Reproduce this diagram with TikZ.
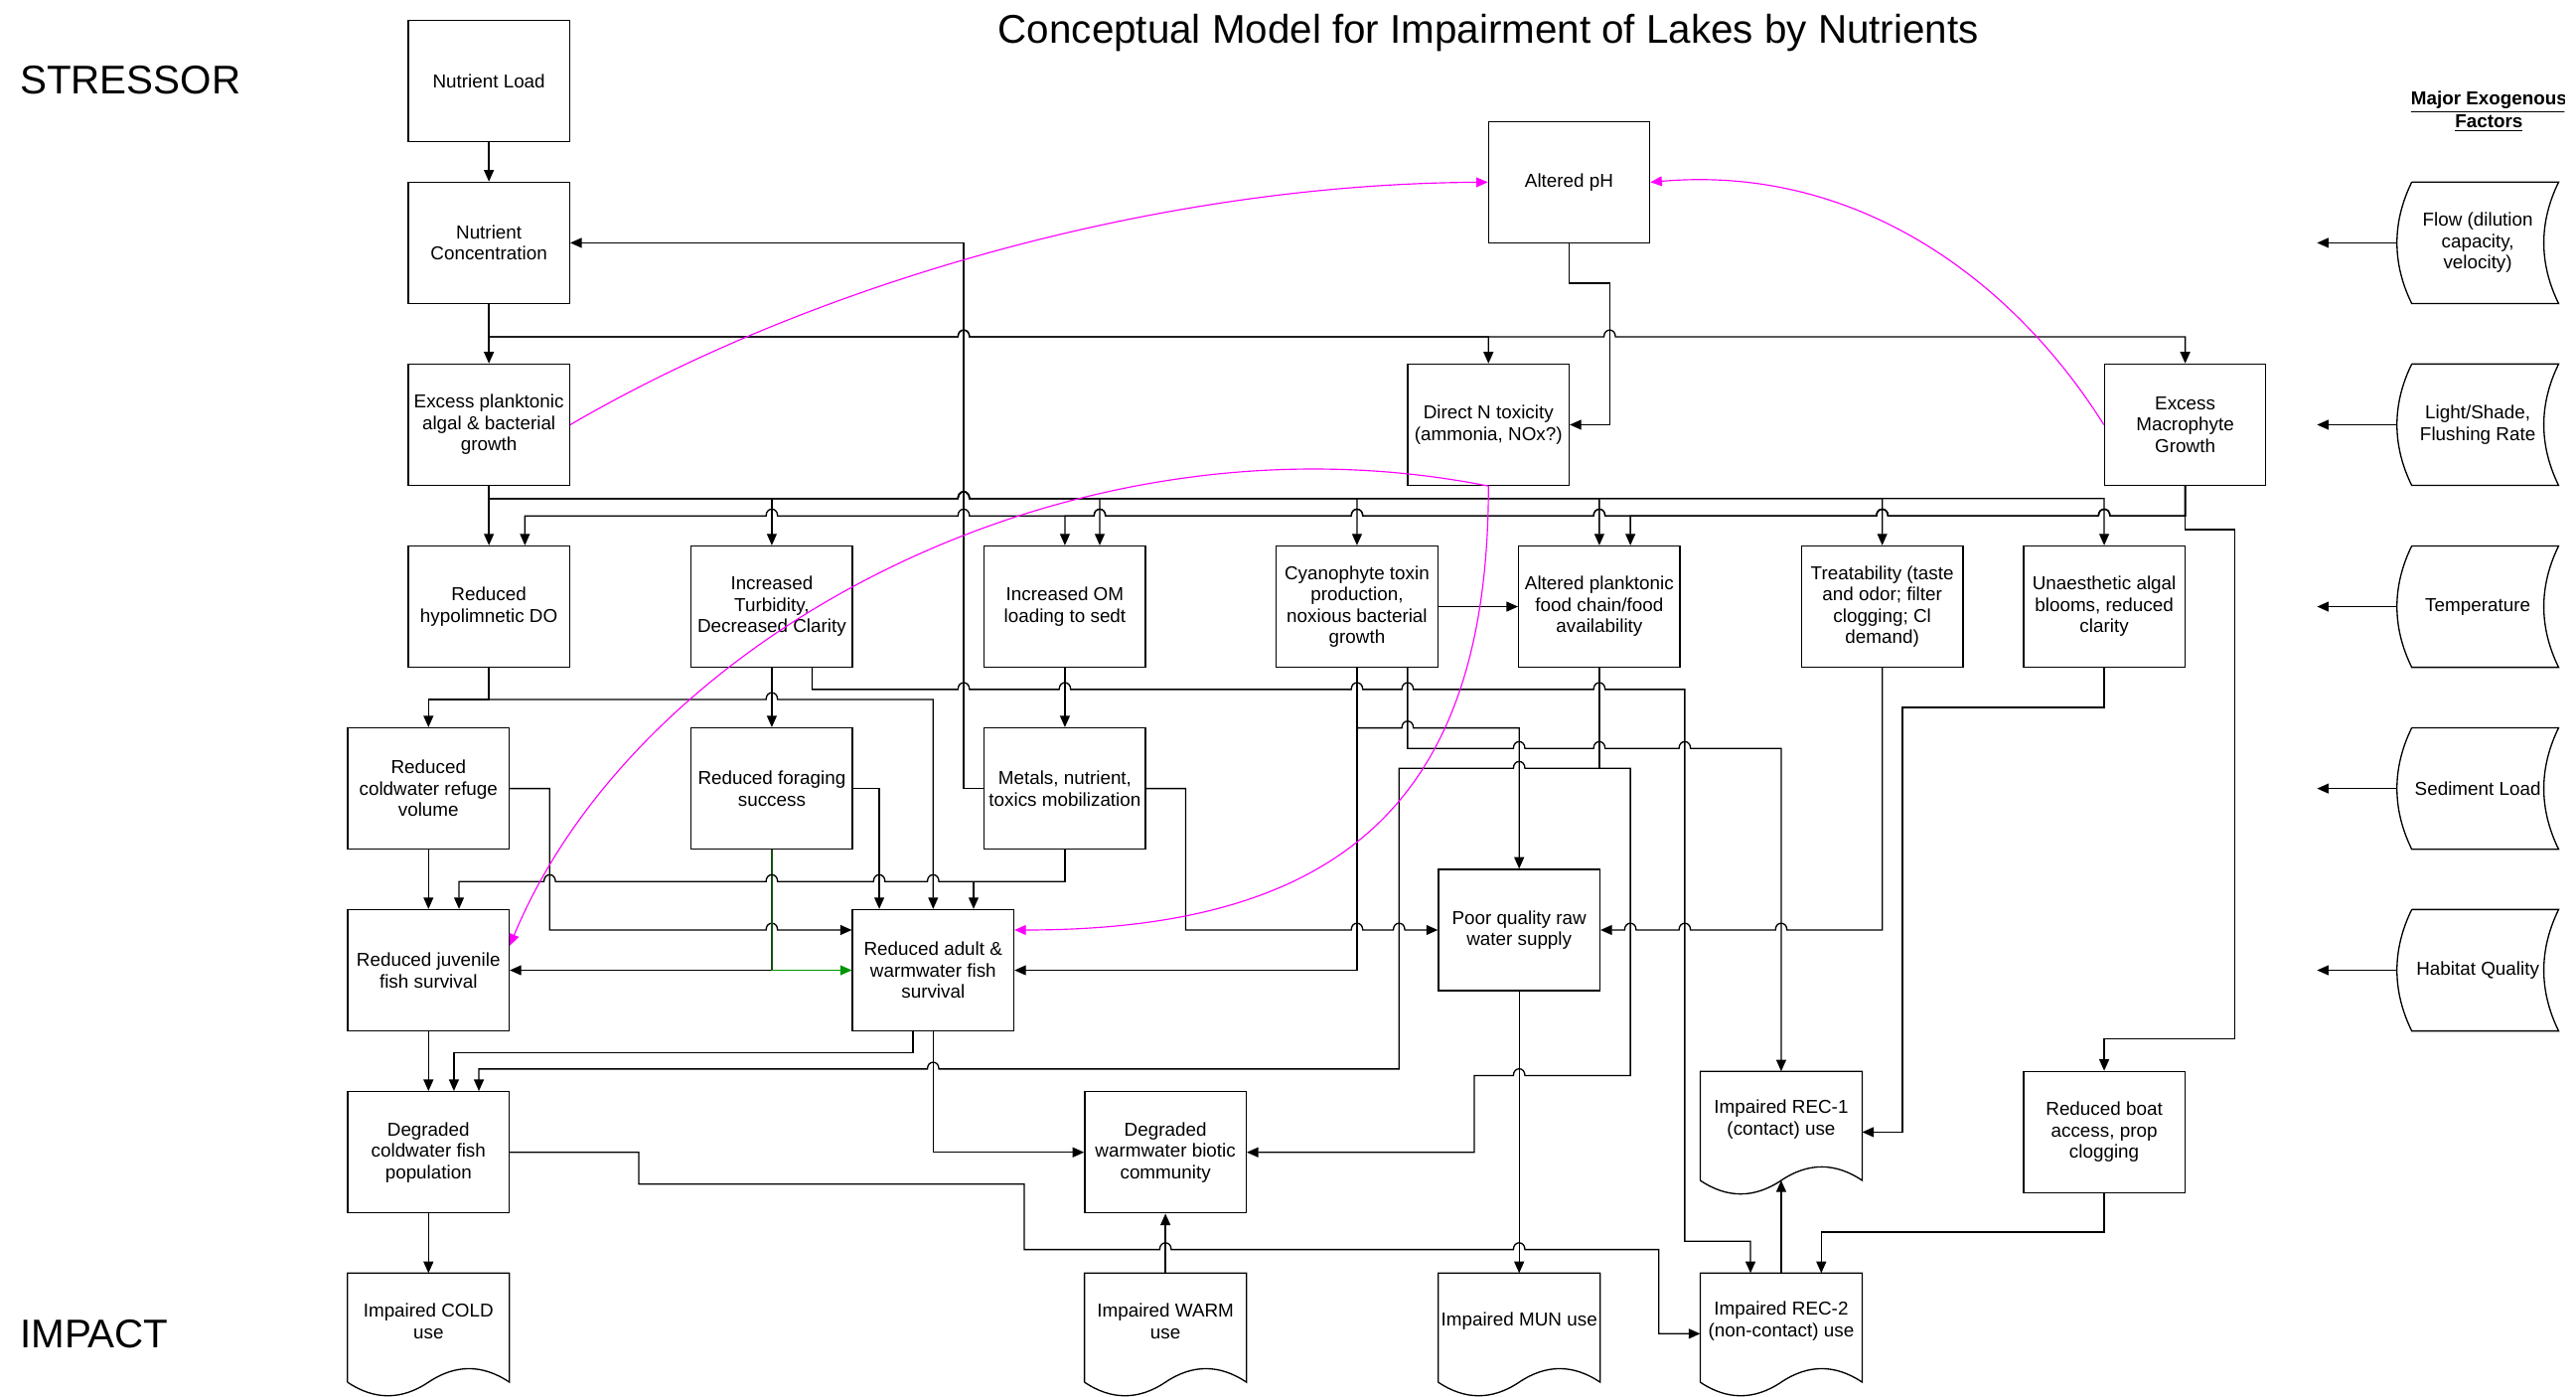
\documentclass[tikz,border=0pt]{standalone}
\usepackage{fontspec}
\setmainfont{Liberation Sans}
\usetikzlibrary{arrows.meta}
\definecolor{dkgreen}{RGB}{20,80,20}
\definecolor{grn}{RGB}{0,150,0}
\definecolor{mag}{RGB}{255,0,255}
\newcommand\boxfont{\fontsize{11.4}{13}\selectfont}
\newcommand\hopR[2]{-- (#1-3.5,#2) .. controls (#1-3.5,#2-5.5) and (#1+3.5,#2-5.5) .. (#1+3.5,#2)}
\newcommand\hopL[2]{-- (#1+3.5,#2) .. controls (#1+3.5,#2-5.5) and (#1-3.5,#2-5.5) .. (#1-3.5,#2)}
\newcommand\docshape[1]{\draw[shapeline] ([yshift=-8pt]#1.south west) -- (#1.north west) -- (#1.north east) -- ([yshift=-8pt]#1.south east) .. controls +(-16.4,-11) and +(16.4,-11) .. ([yshift=-8pt]#1.south) .. controls +(-16.4,11) and +(16.4,11) .. ([yshift=-8pt]#1.south west);}
\newcommand\exoshape[1]{\draw[shapeline] ([xshift=9pt]#1.north west) -- (#1.north east) .. controls +(-12,24.5) and +(-12,-24.5) .. (#1.south east) -- ([xshift=9pt]#1.south west) .. controls +(-12,-24.5) and +(-12,24.5) .. ([xshift=9pt]#1.north west);}
\newcommand\plankbus{(plank.south) -- (plank.south |- 0,303.4) \hopR{586.6}{303.4}}
\newcommand\macrobus{(macro.south) -- (macro.south |- 0,314) \hopL{1280.8}{314} \hopL{1145.7}{314}}
\begin{document}
\begin{tikzpicture}[x=1pt,y=-1pt,
  shapeline/.style={line width=0.8pt},
  box/.style={draw, line width=0.8pt, minimum width=98.2pt, minimum height=73.8pt, inner sep=1pt, align=center, font=\boxfont},
  docn/.style={minimum width=98.2pt, minimum height=58pt, inner sep=1pt, align=center, font=\boxfont},
  exon/.style={minimum width=98pt, minimum height=73.5pt, inner sep=1pt, align=center, font=\boxfont},
  ln/.style={line width=0.8pt},
  arr/.style={ln, -{Triangle[length=7pt,width=6pt]}},
  magarr/.style={line width=0.7pt, color=mag, -{Triangle[length=7pt,width=6pt]}},
  big/.style={font=\fontsize{24.4}{29}\selectfont, inner sep=0pt}]
\path[use as bounding box, fill=white] (0,0) rectangle (1568,850);

% titles
\node[big, anchor=base] (title) at (906,26.2) {Conceptual Model for Impairment of Lakes by Nutrients};
\node[big, anchor=base west] (stressor) at (12,57.3) {STRESSOR};
\node[big, anchor=base west] (impact) at (12,820) {IMPACT};
\begin{scope}
\clip (0,0) rectangle (1561,850);
\node[anchor=base, inner sep=0pt, font=\fontsize{11.4}{13.5}\selectfont\bfseries] (mef) at (1515,64.1)
  {\begin{tabular}[t]{@{}c@{}}\underline{Major Exogenous}\\\underline{Factors}\end{tabular}};
\end{scope}

% boxes
\node[box] (nload) at (297.6,49.4) {Nutrient Load};
\node[box] (nconc) at (297.6,147.8) {Nutrient\\Concentration};
\node[box] (plank) at (297.6,258.5) {Excess planktonic\\algal \& bacterial\\growth};
\node[box] (ph) at (955.1,110.9) {Altered pH};
\node[box] (dirn) at (906,258.5) {Direct N toxicity\\(ammonia, NOx?)};
\node[box] (macro) at (1330.1,258.5) {Excess\\Macrophyte\\Growth};
\node[box] (hypo) at (297.6,369.2) {Reduced\\hypolimnetic DO};
\node[box] (turb) at (469.8,369.2) {Increased\\Turbidity,\\Decreased Clarity};
\node[box] (om) at (648.2,369.2) {Increased OM\\loading to sedt};
\node[box] (cyano) at (826,369.2) {Cyanophyte toxin\\production,\\noxious bacterial\\growth};
\node[box] (altpl) at (973.5,369.2) {Altered planktonic\\food chain/food\\availability};
\node[box] (treat) at (1145.7,369.2) {Treatability (taste\\and odor; filter\\clogging; Cl\\demand)};
\node[box] (unaes) at (1280.8,369.2) {Unaesthetic algal\\blooms, reduced\\clarity};
\node[box] (refuge) at (260.8,479.9) {Reduced\\coldwater refuge\\volume};
\node[box] (forage) at (469.8,479.9) {Reduced foraging\\success};
\node[box] (metals) at (648.2,479.9) {Metals, nutrient,\\toxics mobilization};
\node[box] (poorq) at (924.7,566) {Poor quality raw\\water supply};
\node[box] (juven) at (260.8,590.5) {Reduced juvenile\\fish survival};
\node[box] (adult) at (568,590.5) {Reduced adult \&\\warmwater fish\\survival};
\node[box] (degcold) at (260.8,701.3) {Degraded\\coldwater fish\\population};
\node[box] (degwarm) at (709.4,701.3) {Degraded\\warmwater biotic\\community};
\node[box] (boat) at (1280.8,689) {Reduced boat\\access, prop\\clogging};

% document shapes
\node[docn] (rec1) at (1084.2,681.2) {Impaired REC-1\\(contact) use};
\node[docn] (cold) at (260.8,804) {Impaired COLD\\use};
\node[docn] (warm) at (709.4,804) {Impaired WARM\\use};
\node[docn] (mun) at (924.7,804) {Impaired MUN use};
\node[docn] (rec2) at (1084.2,804) {Impaired REC-2\\(non-contact) use};
\docshape{rec1}\docshape{cold}\docshape{warm}\docshape{mun}\docshape{rec2}

% exogenous factors
\node[exon] (e1) at (1508.2,147.8) {Flow (dilution\\capacity,\\velocity)};
\node[exon] (e2) at (1508.2,258.5) {Light/Shade,\\Flushing Rate};
\node[exon] (e3) at (1508.2,369.2) {Temperature};
\node[exon] (e4) at (1508.2,479.9) {Sediment Load};
\node[exon] (e5) at (1508.2,590.5) {Habitat Quality};
\exoshape{e1}\exoshape{e2}\exoshape{e3}\exoshape{e4}\exoshape{e5}
\coordinate (t1) at (1410.4,147.8);
\coordinate (t2) at (1410.4,258.5);
\coordinate (t3) at (1410.4,369.2);
\coordinate (t4) at (1410.4,479.9);
\coordinate (t5) at (1410.4,590.5);
\draw[arr] (e1.west) -- (t1);
\draw[arr] (e2.west) -- (t2);
\draw[arr] (e3.west) -- (t3);
\draw[arr] (e4.west) -- (t4);
\draw[arr] (e5.west) -- (t5);

% stressor chain
\draw[arr] (nload) -- (nconc);
\draw[arr] (nconc) -- (plank);
\draw[arr] (nconc.south |- 0,205) \hopR{586.6}{205} -- (dirn.north |- 0,205) -- (dirn.north);
\draw[arr] (nconc.south |- 0,205) \hopR{586.6}{205} \hopR{979.8}{205} -- (macro.north |- 0,205) -- (macro.north);
\draw[arr] (ph.south) |- (979.8,172.3) -- (dirn.east -| 979.8,0) -- (dirn.east);
\draw[arr] (metals.west) -| (586.6,147.8) -- (nconc.east);

% bus from planktonic growth
\draw[arr] (plank) -- (hypo);
\draw[arr] (plank.south) -- (plank.south |- 0,303.4) -- (turb.north |- 0,303.4) -- (turb.north);
\draw[arr] \plankbus -- (669.4,303.4) -- (om.north -| 669.4,0);
\draw[arr] \plankbus -- (cyano.north |- 0,303.4) -- (cyano.north);
\draw[arr] \plankbus -- (altpl.north |- 0,303.4) -- (altpl.north);
\draw[arr] \plankbus -- (treat.north |- 0,303.4) -- (treat.north);
\draw[arr] \plankbus -- (unaes.north |- 0,303.4) -- (unaes.north);

% bus from macrophyte growth
\draw[arr] \macrobus -- (992.4,314) -- (altpl.north -| 992.4,0);
\draw[arr] \macrobus \hopL{973.5}{314} \hopL{826}{314} \hopL{669.4}{314} -- (om.north |- 0,314) -- (om.north);
\draw[arr] \macrobus \hopL{973.5}{314} \hopL{826}{314} \hopL{669.4}{314} \hopL{586.6}{314} \hopL{469.8}{314} -- (319.5,314) -- (hypo.north -| 319.5,0);
\draw[arr] (macro.south) -- (macro.south |- 0,322.4) -- (1360.4,322.4) -- (1360.4,632.3) -- (boat.north |- 0,632.3) -- (boat.north);

% row D -> E
\draw[arr] (turb) -- (forage);
\draw[arr] (turb.south -| 494.3,0) -- (494.3,419.6) \hopR{586.6}{419.6} \hopR{648.2}{419.6} \hopR{826}{419.6} \hopR{856.8}{419.6} \hopR{973.5}{419.6} -- (1025.5,419.6) -- (1025.5,755.4) -- (1065.5,755.4) -- (rec2.north -| 1065.5,0);
\draw[arr] (hypo.south) -- (hypo.south |- 0,425.7) -- (refuge.north |- 0,425.7) -- (refuge.north);
\draw[arr] (hypo.south) -- (hypo.south |- 0,425.7) \hopR{469.8}{425.7} -- (adult.north |- 0,425.7) -- (adult.north);
\draw[arr] (om) -- (metals);
\draw[arr] (cyano) -- (altpl);

% row E -> F
\draw[arr] (refuge) -- (juven);
\draw[arr] (refuge.east) -- (334.6,479.9) -- (334.6,566) \hopR{469.8}{566} -- (adult.west |- 0,566);
\draw[arr] (forage.east) -- (535.2,479.9) -- (adult.north -| 535.2,0);
\draw[arr] (forage.south) -- (forage.south |- 0,590.5) -- (juven.east);
\draw[ln, dkgreen] (forage.south) -- (forage.south |- 0,590.5);
\draw[arr, color=grn] (forage.south |- 0,590.5) -- (adult.west);
\draw[arr] (metals.south) -- (metals.south |- 0,536.5) \hopL{568}{536.5} \hopL{535.2}{536.5} \hopL{469.8}{536.5} \hopL{334.6}{536.5} -- (279.4,536.5) -- (juven.north -| 279.4,0);
\draw[arr] (metals.south) -- (metals.south |- 0,536.5) -- (592.6,536.5) -- (adult.north -| 592.6,0);
\draw[arr] (metals.east) -- (721.7,479.9) -- (721.7,566) \hopR{826}{566} \hopR{851.6}{566} -- (poorq.west);
\draw[arr] (cyano.south) -- (cyano.south |- 0,590.5) -- (adult.east);
\draw[arr] (cyano.south) -- (cyano.south |- 0,443) \hopR{856.8}{443} -- (poorq.north |- 0,443) -- (poorq.north);
\draw[arr] (cyano.south -| 856.8,0) -- (856.8,455.5) \hopR{924.7}{455.5} \hopR{973.5}{455.5} \hopR{1025.5}{455.5} -- (rec1.north |- 0,455.5) -- (rec1.north);
\draw[arr] (altpl.south) -- (altpl.south |- 0,467.6) \hopL{924.7}{467.6} -- (851.6,467.6) -- (851.6,650.6) \hopL{568}{650.6} -- (291.5,650.6) -- (degcold.north -| 291.5,0);
\draw[arr] (altpl.south) -- (altpl.south |- 0,467.6) -- (992.4,467.6) -- (992.4,654.6) \hopL{924.7}{654.6} -- (897.4,654.6) -- (897.4,701.3) -- (degwarm.east);
\draw[arr] (treat.south) -- (treat.south |- 0,566) \hopL{1084.2}{566} \hopL{1025.5}{566} \hopL{992.4}{566} -- (poorq.east);
\draw[arr] (unaes.south) -- (unaes.south |- 0,430.6) -- (1158,430.6) -- (1158,689) -- (rec1.east |- 0,689);

% row F -> G -> H
\draw[arr] (juven) -- (degcold);
\draw[arr] (adult.south -| 555.8,0) -- (555.8,640.7) -- (276.3,640.7) -- (degcold.north -| 276.3,0);
\draw[arr] (adult.south) |- (degwarm.west);
\draw[arr] (degcold.south) -- (cold.north);
\draw[arr] (degcold.east) -- (388.8,701.3) -- (388.8,720.6) -- (623.4,720.6) -- (623.4,760.5) \hopR{709.4}{760.5} \hopR{924.7}{760.5} -- (1009.7,760.5) -- (1009.7,811.7) -- (rec2.west |- 0,811.7);
\draw[arr] (warm.north) -- (degwarm.south);
\draw[arr] (poorq.south) -- (mun.north);
\draw[arr] (rec2.north) -- ([yshift=-8pt]rec1.south);
\draw[arr] (boat.south) -- (boat.south |- 0,749.8) -- (1108.6,749.8) -- (rec2.north -| 1108.6,0);

% magenta influences
\draw[magarr] (plank.east) .. controls (490,175) and (700,112) .. (ph.west);
\draw[magarr] (macro.west) .. controls (1225,170) and (1130,100) .. (ph.east);
\draw[magarr] (dirn.south) .. controls (650,245) and (388,388) .. (juven.east |- 0,575.5);
\draw[magarr] (dirn.south) .. controls (906,484.7) and (819.3,566) .. (adult.east |- 0,566);
\end{tikzpicture}
\end{document}
